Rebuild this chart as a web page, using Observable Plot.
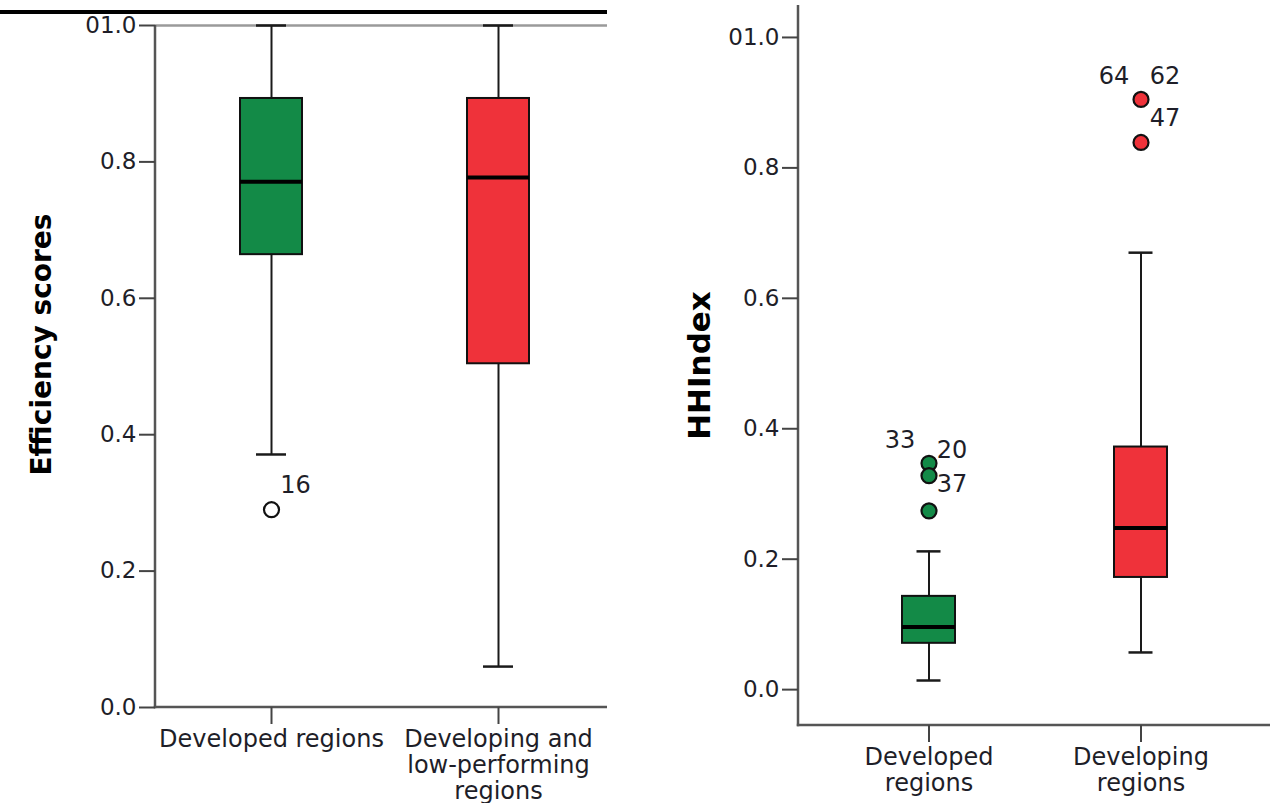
<!DOCTYPE html>
<html><head><meta charset="utf-8">
<script src="https://cdn.jsdelivr.net/npm/d3@7"></script>
<script src="https://cdn.jsdelivr.net/npm/@observablehq/plot@0.6"></script>
<style>
body{margin:0;background:#fff;width:1270px;height:803px;position:relative;overflow:hidden;font-family:"DejaVu Sans",sans-serif}
#left{position:absolute;left:0;top:0}
#right{position:absolute;left:620px;top:0}
#topline{position:absolute;left:0;top:10px;width:607px;height:4px;background:#000}
svg{overflow:visible}
</style></head><body>
<div id="left"></div><div id="right"></div><div id="topline"></div>
<script>
// ---- Left panel: Efficiency scores ----
const effCategories = ["Developed regions", "Developing and low-performing regions"];
const effTickLabels = ["Developed regions", "Developing and\nlow-performing\nregions"];
const effLow  = [0.371, 0.060];
const effQ1   = [0.664, 0.504];
const effMed  = [0.771, 0.777];
const effQ3   = [0.893, 0.893];
const effHigh = [1.000, 1.000];
const effOutlierCat   = ["Developed regions"];
const effOutlierValue = [0.290];
const effOutlierLabel = ["16"];
const effYTicks = [0, 0.2, 0.4, 0.6, 0.8, 1.0];
const effYTickLabels = ["0.0", "0.2", "0.4", "0.6", "0.8", "01.0"];

// ---- Right panel: HHIndex ----
const hhiCategories = ["Developed regions", "Developing regions"];
const hhiTickLabels = ["Developed\nregions", "Developing\nregions"];
const hhiLow  = [0.014, 0.057];
const hhiQ1   = [0.071, 0.172];
const hhiMed  = [0.096, 0.248];
const hhiQ3   = [0.143, 0.372];
const hhiHigh = [0.212, 0.670];
const hhiOutlierCat   = ["Developed regions", "Developed regions", "Developed regions", "Developing regions", "Developing regions"];
const hhiOutlierValue = [0.347, 0.328, 0.274, 0.905, 0.839];
const hhiLabelCat   = ["Developed regions", "Developed regions", "Developed regions", "Developing regions", "Developing regions", "Developing regions"];
const hhiLabelValue = [0.347, 0.347, 0.328, 0.905, 0.905, 0.839];
const hhiLabelText  = ["33", "20", "37", "64", "62", "47"];
const hhiYTicks = [0, 0.2, 0.4, 0.6, 0.8, 1.0];
const hhiYTickLabels = ["0.0", "0.2", "0.4", "0.6", "0.8", "01.0"];

const boxColors = ["#138a47", "#ef323a"];
const FONT = "DejaVu Sans";
const TEXT = "#1e1e28";

function rowsOf(cats, low, q1, med, q3, high) {
  return cats.map((c, i) => ({cat: c, low: low[i], q1: q1[i], med: med[i], q3: q3[i], high: high[i]}));
}

function axisLines(color) {
  return (index, scales, values, dims) => {
    const {marginLeft: l, marginTop: t, marginBottom: b, marginRight: r, width: w, height: h} = dims;
    const g = d3.create("svg:g").attr("stroke", color).attr("stroke-width", 2.5);
    g.append("line").attr("x1", l).attr("x2", l).attr("y1", t).attr("y2", h - b + 1.2);
    g.append("line").attr("x1", l - 1.2).attr("x2", w - r).attr("y1", h - b).attr("y2", h - b);
    return g.node();
  };
}

function boxMarks(rows, capInset, colorFn) {
  return [
    Plot.ruleX(rows, {x: "cat", y1: "low", y2: "q1", stroke: "#1a1a1a", strokeWidth: 2}),
    Plot.ruleX(rows, {x: "cat", y1: "q3", y2: "high", stroke: "#1a1a1a", strokeWidth: 2}),
    Plot.tickY(rows, {x: "cat", y: "low", stroke: "#1a1a1a", strokeWidth: 2.5, insetLeft: capInset, insetRight: capInset}),
    Plot.tickY(rows, {x: "cat", y: "high", stroke: "#1a1a1a", strokeWidth: 2.5, insetLeft: capInset, insetRight: capInset}),
    Plot.barY(rows, {x: "cat", y1: "q1", y2: "q3", fill: d => colorFn(d.cat), stroke: "#111", strokeWidth: 2}),
    Plot.tickY(rows, {x: "cat", y: "med", stroke: "#000", strokeWidth: 4})
  ];
}

const yAxisOpts = {tickSize: 16, tickPadding: 3, fontSize: 23, color: TEXT, stroke: "#444", strokeWidth: 2, label: null};
const xAxisOpts = {tickSize: 17, tickPadding: 4, fontSize: 24, lineHeight: 1.08, color: TEXT, stroke: "#444", strokeWidth: 2, label: null};

// Left chart
{
  const rows = rowsOf(effCategories, effLow, effQ1, effMed, effQ3, effHigh);
  const outliers = effOutlierCat.map((c, i) => ({cat: c, value: effOutlierValue[i], label: effOutlierLabel[i]}));
  const colorOf = c => boxColors[effCategories.indexOf(c)];
  const chart = Plot.plot({
    width: 607, height: 803,
    marginLeft: 155, marginRight: 0, marginTop: 25, marginBottom: 96,
    style: {fontFamily: FONT, background: "transparent"},
    x: {type: "band", domain: effCategories, range: [239, 529], paddingInner: 0.728, paddingOuter: 0, axis: null},
    y: {domain: [0, 1], axis: null},
    marks: [
      Plot.ruleY([1], {stroke: "#9a9a9a", strokeWidth: 2.5}),
      ...boxMarks(rows, 16, colorOf),
      Plot.dot(outliers, {x: "cat", y: "value", r: 7.5, fill: "#fff", stroke: "#111", strokeWidth: 2.2}),
      Plot.text(outliers, {x: "cat", y: "value", text: "label", dx: 24, dy: -24, fontSize: 24, fill: TEXT}),
      axisLines("#555"),
      Plot.axisY({ticks: effYTicks, tickFormat: d => effYTickLabels[effYTicks.indexOf(d)], ...yAxisOpts}),
      Plot.axisX({tickFormat: d => effTickLabels[effCategories.indexOf(d)], ...xAxisOpts}),
      Plot.text(["Efficiency scores"], {frameAnchor: "left", textAnchor: "middle", rotate: -90, dx: -113, dy: -22, fontSize: 28, fontWeight: "bold", fill: "#000"})
    ]
  });
  document.getElementById("left").appendChild(chart);
}

// Right chart
{
  const rows = rowsOf(hhiCategories, hhiLow, hhiQ1, hhiMed, hhiQ3, hhiHigh);
  const outliers = hhiOutlierCat.map((c, i) => ({cat: c, value: hhiOutlierValue[i]}));
  const labels = hhiLabelCat.map((c, i) => ({cat: c, value: hhiLabelValue[i], label: hhiLabelText[i]}));
  const colorOf = c => boxColors[hhiCategories.indexOf(c)];
  const lab = (name, dx, dy) => Plot.text(labels.filter(d => d.label === name), {x: "cat", y: "value", text: "label", dx, dy, fontSize: 24, fill: TEXT});
  const chart = Plot.plot({
    width: 650, height: 803,
    marginLeft: 178, marginRight: 0, marginTop: 5, marginBottom: 78,
    style: {fontFamily: FONT, background: "transparent"},
    x: {type: "band", domain: hhiCategories, range: [281.5, 547.5], paddingInner: 0.751, paddingOuter: 0, axis: null},
    y: {domain: [-0.055, 1.049], axis: null},
    marks: [
      ...boxMarks(rows, 14.5, colorOf),
      Plot.dot(outliers, {x: "cat", y: "value", r: 7.5, fill: d => colorOf(d.cat), stroke: "#111", strokeWidth: 2.2}),
      lab("33", -29, -23), lab("20", 23, -13), lab("37", 23, 9),
      lab("64", -27, -23), lab("62", 24, -23), lab("47", 24, -24),
      axisLines("#555"),
      Plot.axisY({ticks: hhiYTicks, tickFormat: d => hhiYTickLabels[hhiYTicks.indexOf(d)], ...yAxisOpts}),
      Plot.axisX({tickFormat: d => hhiTickLabels[hhiCategories.indexOf(d)], ...xAxisOpts}),
      Plot.text(["HHIndex"], {frameAnchor: "left", textAnchor: "middle", rotate: -90, dx: -98, fontSize: 31, fontWeight: "bold", fill: "#000"})
    ]
  });
  document.getElementById("right").appendChild(chart);
}
</script>
</body></html>
